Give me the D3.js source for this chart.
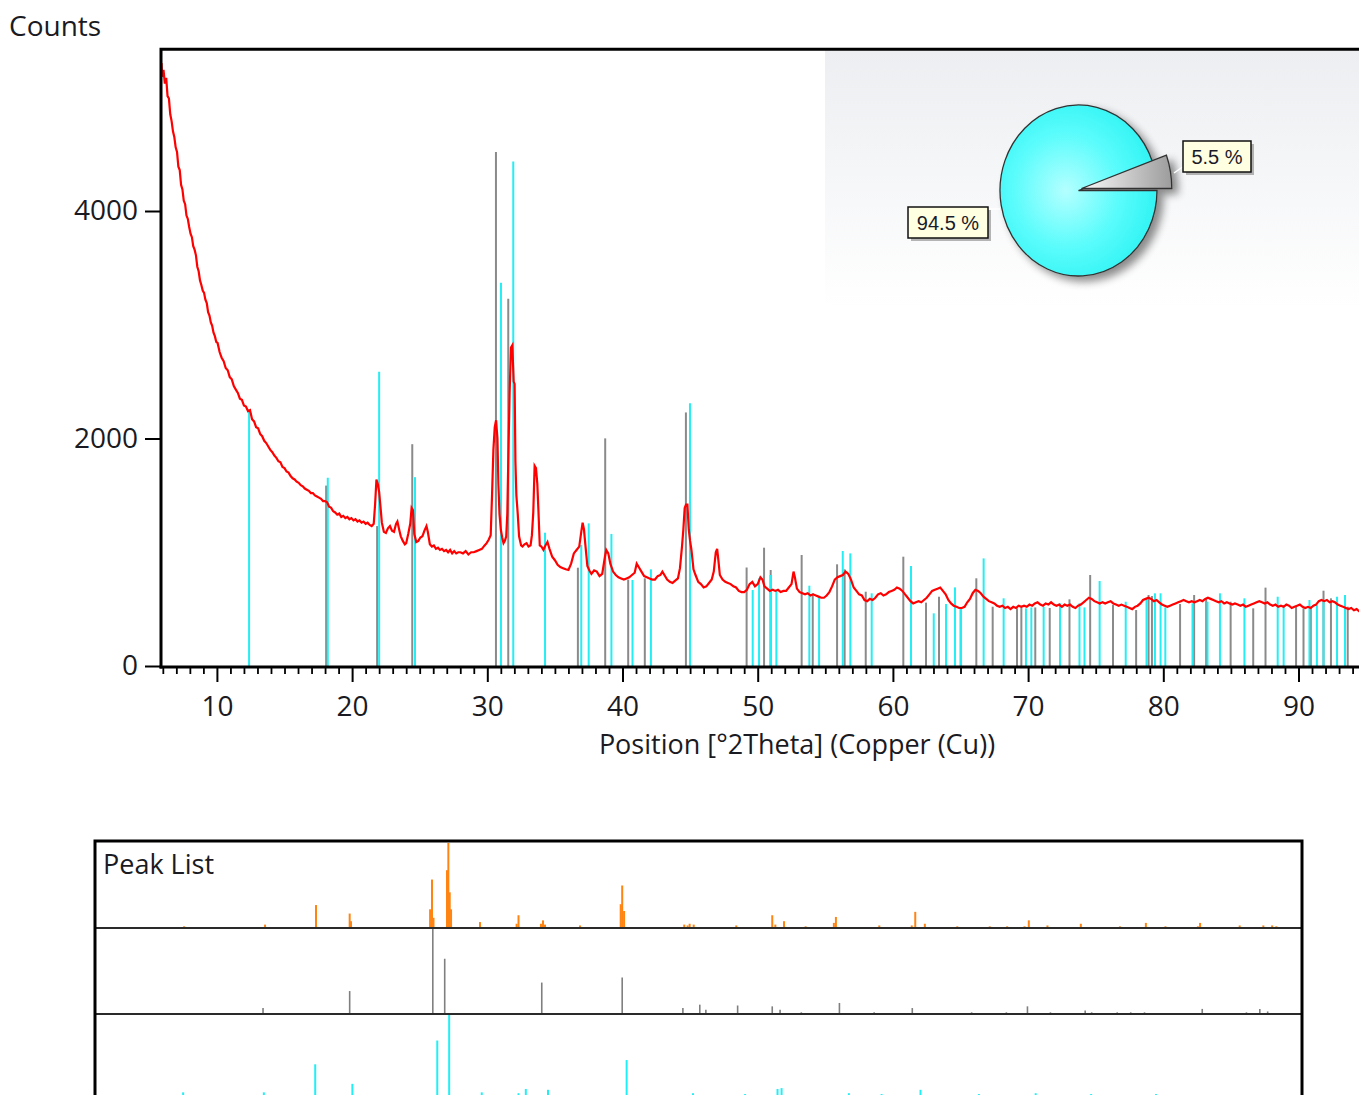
<!DOCTYPE html>
<html><head><meta charset="utf-8">
<script src="https://cdn.jsdelivr.net/npm/d3@7"></script>
<style>
html,body{margin:0;padding:0;background:#fff;overflow:hidden}
svg{display:block}
.lab{font-family:"Open Sans","Noto Sans",sans-serif;fill:#1a1a22}
</style></head><body>
<svg id="c" width="1359" height="1095"></svg>
<script>
// ---------- DATA ----------
// measured scan: [2theta, counts]
const scan = [
[5.90,5300],[5.95,5180],[6.05,5240],[6.15,5120],[6.25,5170],[6.35,5010],[6.45,4990],[6.55,4850],[6.65,4790],[6.75,4700],[6.85,4650],[6.95,4560],[7.05,4520],[7.15,4390],[7.25,4360],[7.35,4230],[7.45,4190],[7.55,4090],[7.65,4060],[7.75,3960],[7.85,3930],[7.95,3860],[8.05,3800],[8.15,3770],[8.25,3690],[8.35,3660],[8.45,3610],[8.55,3510],[8.65,3470],[8.75,3390],[8.85,3350],[8.95,3300],[9.05,3280],[9.15,3220],[9.25,3190],[9.35,3110],[9.45,3080],[9.55,3020],[9.65,2990],[9.75,2930],[9.85,2900],[9.95,2850],[10.05,2840],[10.2,2760],[10.35,2710],[10.5,2680],[10.65,2620],[10.8,2600],[10.95,2540],[11.1,2520],[11.25,2460],[11.4,2430],[11.55,2400],[11.7,2350],[11.85,2340],[12.0,2290],[12.15,2280],[12.3,2240],[12.45,2250],[12.6,2170],[12.75,2150],[12.9,2100],[13.05,2090],[13.2,2040],[13.35,2020],[13.5,1980],[13.65,1960],[13.8,1930],[13.95,1900],[14.1,1880],[14.25,1850],[14.4,1830],[14.55,1800],[14.7,1790],[14.85,1750],[15.0,1740],[15.15,1710],[15.3,1700],[15.45,1670],[15.6,1650],[15.75,1640],[15.9,1620],[16.05,1610],[16.2,1590],[16.35,1580],[16.5,1560],[16.65,1550],[16.8,1540],[16.95,1520],[17.1,1520],[17.25,1500],[17.4,1490],[17.55,1480],[17.7,1470],[17.85,1450],[18.0,1450],[18.15,1440],[18.3,1400],[18.45,1390],[18.6,1360],[18.75,1350],[18.9,1330],[19.05,1340],[19.2,1310],[19.35,1320],[19.5,1300],[19.65,1310],[19.8,1290],[19.95,1300],[20.1,1280],[20.25,1290],[20.4,1270],[20.55,1280],[20.7,1260],[20.85,1270],[21.0,1250],[21.15,1260],[21.3,1240],[21.45,1230],[21.6,1250],[21.7,1420],[21.8,1640],[21.9,1600],[22.0,1530],[22.1,1400],[22.2,1260],[22.35,1180],[22.5,1170],[22.65,1210],[22.8,1230],[22.95,1190],[23.1,1180],[23.25,1250],[23.35,1270],[23.5,1190],[23.6,1140],[23.75,1100],[23.9,1070],[24.0,1080],[24.15,1160],[24.3,1250],[24.4,1390],[24.5,1370],[24.6,1160],[24.75,1090],[24.9,1100],[25.05,1130],[25.2,1140],[25.35,1190],[25.5,1230],[25.6,1180],[25.75,1070],[25.9,1050],[26.05,1060],[26.2,1030],[26.35,1040],[26.5,1020],[26.65,1030],[26.8,1010],[26.95,1020],[27.1,1000],[27.25,1020],[27.4,990],[27.55,1010],[27.7,990],[27.85,1000],[28.0,1000],[28.2,990],[28.4,1010],[28.6,980],[28.8,1000],[29.0,1000],[29.2,1010],[29.4,1020],[29.6,1030],[29.8,1060],[29.95,1080],[30.1,1110],[30.25,1150],[30.35,1500],[30.45,1900],[30.55,2100],[30.65,2160],[30.75,2000],[30.82,1600],[30.9,1340],[31.0,1200],[31.1,1130],[31.2,1080],[31.3,1100],[31.4,1140],[31.48,1340],[31.55,1800],[31.65,2400],[31.75,2800],[31.85,2820],[31.95,2500],[32.02,2480],[32.08,1800],[32.15,1500],[32.25,1340],[32.35,1140],[32.5,1060],[32.6,1050],[32.75,1070],[32.9,1080],[33.05,1050],[33.2,1060],[33.3,1150],[33.4,1350],[33.5,1760],[33.6,1740],[33.7,1600],[33.78,1370],[33.88,1060],[34.0,1050],[34.15,1020],[34.3,1060],[34.45,1090],[34.6,1030],[34.8,960],[35.0,930],[35.2,890],[35.4,870],[35.6,860],[35.8,850],[36.0,845],[36.2,900],[36.4,990],[36.6,1020],[36.8,1050],[36.95,1180],[37.05,1260],[37.15,1200],[37.25,1070],[37.4,880],[37.55,840],[37.7,810],[37.9,840],[38.1,830],[38.3,790],[38.5,810],[38.7,960],[38.8,1020],[38.95,990],[39.1,900],[39.3,830],[39.5,800],[39.7,780],[39.9,770],[40.1,760],[40.3,770],[40.5,780],[40.7,800],[40.9,820],[41.05,900],[41.2,870],[41.4,830],[41.6,790],[41.8,780],[42.0,770],[42.2,760],[42.4,760],[42.6,790],[42.8,800],[42.95,830],[43.1,800],[43.3,760],[43.5,740],[43.7,730],[43.9,750],[44.1,770],[44.25,860],[44.4,1050],[44.5,1200],[44.6,1390],[44.7,1420],[44.8,1420],[44.9,1200],[45.0,1100],[45.1,1020],[45.25,850],[45.4,800],[45.6,740],[45.8,720],[46.0,690],[46.2,700],[46.4,730],[46.6,760],[46.75,830],[46.9,1000],[47.0,1030],[47.1,920],[47.2,800],[47.4,760],[47.6,740],[47.8,730],[48.0,720],[48.2,700],[48.4,690],[48.6,660],[48.8,650],[49.0,650],[49.2,670],[49.4,720],[49.6,740],[49.8,700],[50.0,720],[50.2,780],[50.35,760],[50.5,700],[50.7,680],[50.9,660],[51.1,670],[51.3,660],[51.5,670],[51.7,650],[51.9,660],[52.1,660],[52.3,690],[52.5,720],[52.65,830],[52.75,780],[52.9,680],[53.1,650],[53.3,640],[53.5,630],[53.7,640],[53.9,620],[54.1,630],[54.3,620],[54.5,610],[54.7,600],[54.9,600],[55.1,620],[55.3,650],[55.5,700],[55.7,760],[55.9,780],[56.1,790],[56.3,800],[56.5,830],[56.7,810],[56.9,760],[57.1,690],[57.3,660],[57.5,630],[57.7,620],[57.9,580],[58.1,570],[58.3,590],[58.5,580],[58.7,600],[58.9,630],[59.1,640],[59.3,620],[59.5,630],[59.7,650],[59.9,660],[60.1,670],[60.3,690],[60.5,680],[60.7,660],[60.9,630],[61.1,600],[61.3,570],[61.5,550],[61.7,560],[61.9,570],[62.1,560],[62.3,580],[62.5,600],[62.7,630],[62.9,660],[63.1,670],[63.3,680],[63.5,690],[63.7,660],[63.9,630],[64.1,580],[64.3,550],[64.5,530],[64.7,520],[64.9,510],[65.1,510],[65.3,520],[65.5,560],[65.7,590],[65.9,640],[66.1,670],[66.3,660],[66.5,640],[66.7,610],[66.9,590],[67.1,570],[67.3,560],[67.5,550],[67.7,530],[67.9,520],[68.1,530],[68.3,510],[68.5,520],[68.7,500],[68.9,520],[69.1,510],[69.3,530],[69.5,520],[69.7,530],[69.9,520],[70.1,540],[70.3,530],[70.5,550],[70.7,560],[70.9,540],[71.1,530],[71.3,550],[71.5,540],[71.7,560],[71.9,540],[72.1,530],[72.3,540],[72.5,520],[72.7,540],[72.9,530],[73.1,540],[73.3,520],[73.5,510],[73.7,530],[73.9,540],[74.1,560],[74.3,580],[74.5,600],[74.7,590],[74.9,570],[75.1,560],[75.3,550],[75.5,560],[75.7,550],[75.9,560],[76.1,570],[76.3,550],[76.5,540],[76.7,530],[76.9,540],[77.1,530],[77.3,520],[77.5,510],[77.7,500],[77.9,520],[78.1,530],[78.3,550],[78.5,580],[78.7,590],[78.9,600],[79.1,590],[79.3,570],[79.5,580],[79.7,560],[79.9,540],[80.1,530],[80.3,520],[80.5,530],[80.7,540],[80.9,550],[81.1,560],[81.3,570],[81.5,580],[81.7,570],[81.9,560],[82.1,570],[82.3,560],[82.5,570],[82.7,580],[82.9,570],[83.1,590],[83.3,600],[83.5,590],[83.7,580],[83.9,570],[84.1,560],[84.3,570],[84.5,550],[84.7,560],[84.9,550],[85.1,540],[85.3,550],[85.5,540],[85.7,530],[85.9,540],[86.1,520],[86.3,530],[86.5,540],[86.7,550],[86.9,560],[87.1,570],[87.3,560],[87.5,550],[87.7,560],[87.9,540],[88.1,530],[88.3,540],[88.5,520],[88.7,530],[88.9,520],[89.1,540],[89.3,530],[89.5,510],[89.7,520],[89.9,530],[90.1,540],[90.3,520],[90.5,510],[90.7,520],[90.9,510],[91.1,530],[91.3,540],[91.5,570],[91.7,580],[91.9,570],[92.1,580],[92.3,560],[92.5,570],[92.7,560],[92.9,540],[93.1,530],[93.3,520],[93.5,510],[93.7,500],[93.9,510],[94.1,490],[94.3,500],[94.5,480],[94.7,490],[94.9,470],[95.0,480]
];
// reference pattern sticks shown in main plot: [2theta, counts]
const refGrayTop = [[18.08,1586],[21.85,1230],[24.45,1950],[30.64,4518],[31.55,3229],[36.7,864],[38.72,2001],[40.42,760],[41.65,771],[44.69,2229],[49.18,866],[50.47,1040],[50.96,844],[53.25,976],[54.07,639],[55.87,894],[56.43,850],[57.99,653],[60.77,961],[62.45,557],[63.41,609],[65.01,515],[66.17,771],[67.38,521],[69.18,507],[69.5,515],[70.53,515],[71.6,510],[73.06,586],[74.59,800],[76.28,536],[77.99,492],[78.91,624],[79.16,615],[81.24,545],[82.28,624],[83.17,595],[84.98,565],[86.65,507],[87.56,689],[89.82,521],[90.37,507],[90.91,521],[91.85,662],[92.4,595],[93.64,521]];
const refCyanTop = [[12.38,2252],[18.2,1655],[22.0,2586],[24.65,1660],[31.01,3370],[31.92,4436],[34.27,1172],[36.95,1064],[37.5,1254],[39.18,1161],[40.74,756],[42.1,850],[44.99,2309],[49.63,668],[50.1,770],[50.94,800],[51.38,668],[53.82,706],[54.54,609],[56.29,1011],[56.85,990],[58.43,639],[61.34,879],[63.02,463],[63.93,545],[64.59,691],[65.04,507],[66.71,946],[68.19,595],[69.84,507],[70.24,515],[71.15,520],[72.36,551],[73.8,551],[74.17,515],[75.29,747],[77.22,565],[78.76,595],[79.38,639],[79.8,639],[80.15,515],[82.16,551],[83.27,565],[84.19,639],[86.0,595],[88.46,609],[88.9,536],[90.81,580],[91.36,536],[91.85,580],[92.85,609],[93.44,624]];
// peak list panel: [2theta, relative intensity %]
const peakList = [[12.3,2],[18.29,4],[22.06,27],[24.55,17],[24.65,8],[30.5,22],[30.64,57],[30.75,12],[31.75,68],[31.85,100],[31.95,42],[32.05,22],[34.19,7],[36.9,5],[37.04,15],[38.7,5],[38.85,9],[39.0,4],[41.59,3],[44.6,28],[44.71,50],[44.85,20],[49.3,4],[49.55,3],[49.7,5],[50.0,4],[53.15,3],[55.81,15],[56.04,4],[56.68,8],[58.28,2],[60.37,6],[60.52,13],[63.73,3],[66.13,3],[66.39,19],[67.1,5],[69.5,2],[71.9,2],[73.19,2],[74.47,2],[74.79,9],[76.17,3],[78.64,5],[81.53,2],[83.45,6],[84.9,2],[87.3,2],[87.46,6],[90.39,3],[92.14,3],[92.79,3],[93.1,2]];
const refGrayList = [[18.14,7],[24.55,27],[30.7,100],[31.58,65],[38.76,37],[44.71,43],[49.2,7],[50.45,11],[50.9,5],[53.25,10],[55.81,9],[56.39,5],[57.96,2],[60.78,13],[63.35,2],[66.17,7],[70.56,2],[73.13,2],[74.69,9],[76.39,2],[78.96,4],[79.44,2],[81.33,2],[82.33,2],[83.35,2],[87.62,6],[90.89,2],[91.88,6],[92.46,3]];
const refCyanList = [[12.23,9],[18.2,9],[22.0,42],[24.75,19],[31.03,70],[31.91,100],[34.32,9],[37.04,8],[37.58,13],[39.22,12],[45.04,47],[49.95,8],[53.8,7],[56.2,13],[56.5,14],[61.48,8],[63.9,7],[66.78,12],[71.1,7],[75.3,8],[79.4,7],[84.2,7]];
const yTickValues = [0, 2000, 4000];
const xTickValues = [10, 20, 30, 40, 50, 60, 70, 80, 90];
const phaseShares = [{label:"5.5 %", value:5.5}, {label:"94.5 %", value:94.5}];
const xTitle = "Position [°2Theta] (Copper (Cu))";
const yTitle = "Counts";

// ---------- CHART ----------
const svg = d3.select("#c");
const defs = svg.append("defs");

const xTop = d3.scaleLinear().domain([5.865, 95]).range([161, 161 + 89.135 * 13.52]);
const yTop = d3.scaleLinear().domain([0, 5433]).range([666, 48]);

defs.append("clipPath").attr("id","plotclip").append("rect")
  .attr("x",161).attr("y",48).attr("width",1300).attr("height",620);

// pie background panel gradient
const bg = defs.append("linearGradient").attr("id","bgGrad").attr("x1",0).attr("y1",0).attr("x2",0).attr("y2",1);
bg.append("stop").attr("offset","0%").attr("stop-color","#eceef1");
bg.append("stop").attr("offset","100%").attr("stop-color","#ffffff");
svg.append("rect").attr("x",825).attr("y",50).attr("width",560).attr("height",258).attr("fill","url(#bgGrad)");

// sticks in main plot
const plot = svg.append("g").attr("clip-path","url(#plotclip)");
function sticks(g, data, color, w){
  g.selectAll(null).data(data).enter().append("line")
    .attr("x1",d=>xTop(d[0])).attr("x2",d=>xTop(d[0]))
    .attr("y1",yTop(0)).attr("y2",d=>yTop(d[1]))
    .attr("stroke",color).attr("stroke-width",w);
}
sticks(plot, refGrayTop, "#8a8a8a", 2);
sticks(plot, refCyanTop, "#22eef4", 2);

plot.append("path").datum(scan)
  .attr("d", d3.line().x(d=>xTop(d[0])).y(d=>yTop(d[1])))
  .attr("fill","none").attr("stroke","#ff0000").attr("stroke-width",2.2).attr("stroke-linejoin","miter");

// axes
const yAxis = svg.append("g").attr("transform","translate(161,0)")
  .call(d3.axisLeft(yTop).tickValues(yTickValues).tickSize(16).tickPadding(7).tickFormat(d3.format("d")));
yAxis.select(".domain").remove();
yAxis.selectAll(".tick line").attr("stroke","#000").attr("stroke-width",2);
yAxis.selectAll(".tick text").attr("class","lab").style("font-size","28px").attr("fill","#1a1a22");

const minor = d3.range(6, 96).filter(v => v % 10 !== 0);
const xMinorAxis = svg.append("g").attr("transform","translate(0,667)")
  .call(d3.axisBottom(xTop).tickValues(minor).tickSize(7).tickFormat(""));
xMinorAxis.select(".domain").remove();
xMinorAxis.selectAll(".tick line").attr("stroke","#000").attr("stroke-width",1.8);

const xAxis = svg.append("g").attr("transform","translate(0,667)")
  .call(d3.axisBottom(xTop).tickValues(xTickValues).tickSize(15).tickPadding(14).tickFormat(d3.format("d")));
xAxis.select(".domain").remove();
xAxis.selectAll(".tick line").attr("stroke","#000").attr("stroke-width",2);
xAxis.selectAll(".tick text").attr("class","lab").style("font-size","28px").attr("fill","#1a1a22");

// frame lines
svg.append("path").attr("d","M161,668.5 V49.2 H1400").attr("fill","none").attr("stroke","#000").attr("stroke-width",3);
svg.append("path").attr("d","M159.5,667 H1400").attr("fill","none").attr("stroke","#000").attr("stroke-width",3);

// titles
svg.append("text").attr("class","lab").attr("x",9).attr("y",36).style("font-size","28px").text(yTitle);
svg.append("text").attr("class","lab").attr("x",797).attr("y",754).attr("text-anchor","middle").style("font-size","27px").text(xTitle);

// ---------- PIE ----------
const cx = 1078.5, cy = 190.5, R = 85.5, sx = 78.5/85.5;
const sh = defs.append("filter").attr("id","pieShadow").attr("x","-30%").attr("y","-30%").attr("width","160%").attr("height","160%");
sh.append("feGaussianBlur").attr("in","SourceAlpha").attr("stdDeviation",4).attr("result","b");
sh.append("feOffset").attr("in","b").attr("dx",6).attr("dy",5).attr("result","o");
sh.append("feComponentTransfer").attr("in","o").attr("result","s").append("feFuncA").attr("type","linear").attr("slope",0.45);
const m = sh.append("feMerge"); m.append("feMergeNode").attr("in","s"); m.append("feMergeNode").attr("in","SourceGraphic");

const rg = defs.append("radialGradient").attr("id","cyanGrad").attr("cx","0.42").attr("cy","0.5").attr("r","0.6");
rg.append("stop").attr("offset","0%").attr("stop-color","#b4ffff");
rg.append("stop").attr("offset","55%").attr("stop-color","#5cfcfc");
rg.append("stop").attr("offset","100%").attr("stop-color","#2ef3f3");
const lg = defs.append("linearGradient").attr("id","greyGrad").attr("x1",0).attr("y1",0).attr("x2",1).attr("y2",0);
lg.append("stop").attr("offset","0%").attr("stop-color","#fafafa");
lg.append("stop").attr("offset","100%").attr("stop-color","#9c9c9c");

const a0 = Math.PI/2 - 2*Math.PI*phaseShares[0].value/100;
const pie = d3.pie().sort(null).value(d=>d.value).startAngle(a0).endAngle(a0 + 2*Math.PI);
const arcs = pie(phaseShares);
const pg = svg.append("g").attr("filter","url(#pieShadow)");
// main (94.5 %)
pg.append("path").attr("d", d3.arc().innerRadius(0).outerRadius(R)(arcs[1]))
  .attr("transform",`translate(${cx},${cy}) scale(${sx},1)`)
  .attr("fill","url(#cyanGrad)").attr("stroke","#333").attr("stroke-width",1.3).attr("vector-effect","non-scaling-stroke");
// small slice (5.5 %)
pg.append("path").attr("d", d3.arc().innerRadius(0).outerRadius(R*1.15)(arcs[0]))
  .attr("transform",`translate(${cx+3},${cy-2}) scale(${sx},1)`)
  .attr("fill","url(#greyGrad)").attr("stroke","#333").attr("stroke-width",1.3).attr("vector-effect","non-scaling-stroke");

// leader lines
svg.append("line").attr("x1",1174).attr("y1",173).attr("x2",1184).attr("y2",166).attr("stroke","#fff").attr("stroke-width",1.5);
svg.append("line").attr("x1",988).attr("y1",209).attr("x2",1000).attr("y2",209).attr("stroke","#fff").attr("stroke-width",1.5);

// label boxes
const boxes = [
  {d: phaseShares[0], x:1183, y:141, w:68, h:31},
  {d: phaseShares[1], x:908, y:207, w:80, h:31}
];
boxes.forEach(b=>{
  svg.append("rect").attr("x",b.x+3).attr("y",b.y+3).attr("width",b.w).attr("height",b.h).attr("fill","#7a7a7a").attr("opacity",0.55);
  svg.append("rect").attr("x",b.x).attr("y",b.y).attr("width",b.w).attr("height",b.h).attr("fill","#ffffe1").attr("stroke","#111").attr("stroke-width",1.5);
  svg.append("text").attr("x",b.x+b.w/2).attr("y",b.y+b.h/2+7).attr("text-anchor","middle")
    .style("font-family","'Liberation Sans',Arial,sans-serif").style("font-size","20px").attr("fill","#1a1a2a").text(b.d.label);
});

// ---------- PEAK LIST PANEL ----------
const xBot = d3.scaleLinear().domain([5.71, 95]).range([95, 1302]);
const hRel = d3.scaleLinear().domain([0,100]).range([0,85]);
const panels = [
  {data: peakList, base: 928, color: "#ff8412", w: 2},
  {data: refGrayList, base: 1014, color: "#7f7f7f", w: 1.6},
  {data: refCyanList, base: 1100, color: "#1ff0f6", w: 2}
];
panels.forEach(p=>{
  svg.append("g").selectAll("line").data(p.data).enter().append("line")
    .attr("x1",d=>xBot(d[0])).attr("x2",d=>xBot(d[0]))
    .attr("y1",p.base).attr("y2",d=>p.base - hRel(d[1]))
    .attr("stroke",p.color).attr("stroke-width",p.w);
});
svg.append("line").attr("x1",95).attr("x2",1302).attr("y1",928).attr("y2",928).attr("stroke","#2a2a2a").attr("stroke-width",2);
svg.append("line").attr("x1",95).attr("x2",1302).attr("y1",1014).attr("y2",1014).attr("stroke","#2a2a2a").attr("stroke-width",2);
svg.append("rect").attr("x",95).attr("y",841).attr("width",1207).attr("height",400).attr("fill","none").attr("stroke","#000").attr("stroke-width",3);
svg.append("text").attr("class","lab").attr("x",103).attr("y",874).style("font-size","27px").text("Peak List");
</script>
</body></html>
